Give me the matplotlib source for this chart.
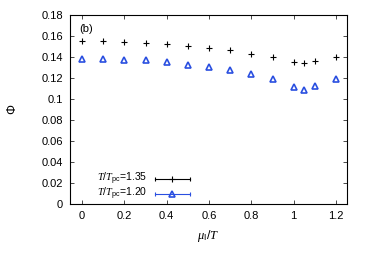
import matplotlib
matplotlib.use("Agg")
import matplotlib.pyplot as plt
from matplotlib.ticker import FuncFormatter, MultipleLocator

plt.rcParams['font.family'] = ['Liberation Sans', 'DejaVu Sans']
plt.rcParams['mathtext.fontset'] = 'custom'
plt.rcParams['mathtext.it'] = 'Liberation Serif:italic'
plt.rcParams['mathtext.rm'] = 'Liberation Sans'
plt.rcParams['mathtext.sf'] = 'Liberation Sans'

mu = [0.0, 0.1, 0.2, 0.3, 0.4, 0.5, 0.6, 0.7, 0.8, 0.9, 1.0, 1.05, 1.1, 1.2]
phi_135 = [0.155, 0.155, 0.1543, 0.153, 0.152, 0.1508, 0.1486, 0.1463, 0.1432,
           0.1397, 0.1356, 0.134, 0.1362, 0.1397]
phi_120 = [0.138, 0.138, 0.1374, 0.1368, 0.1352, 0.1327, 0.1305, 0.1276, 0.1241,
           0.1187, 0.1117, 0.1086, 0.112, 0.119]
labels = [r'$T/T_{\mathrm{pc}}$=1.35', r'$T/T_{\mathrm{pc}}$=1.20']

blue = '#2a4fe0'
fs = 8

fig = plt.figure(figsize=(3.70, 2.59), dpi=100)
ax = fig.add_axes([0.189, 0.212, 0.749, 0.730])

styles = [
    dict(marker='+', color='black', markerfacecolor='black', markersize=5, markeredgewidth=0.8),
    dict(marker='^', color=blue, markerfacecolor='none', markersize=4.5, markeredgewidth=1.2),
]

ax.plot(mu, phi_135, linestyle='none', **styles[0])
ax.plot(mu, phi_120, linestyle='none', **styles[1])

ax.set_xlim(-0.057, 1.252)
ax.set_ylim(0, 0.18)
ax.xaxis.set_major_locator(MultipleLocator(0.2))
ax.yaxis.set_major_locator(MultipleLocator(0.02))
ax.xaxis.set_major_formatter(FuncFormatter(lambda v, p: '%g' % round(v, 6)))
ax.yaxis.set_major_formatter(FuncFormatter(lambda v, p: '%g' % round(v, 6)))
ax.tick_params(direction='in', top=True, right=True, length=3, width=0.5,
               labelsize=fs, pad=5)
for s in ax.spines.values():
    s.set_linewidth(0.8)

ax.set_xlabel(r'$\mu_{\mathrm{I}}/T$', fontsize=fs + 1, labelpad=5)
ax.set_ylabel(r'$\mathit{\Phi}$', fontsize=fs + 1, labelpad=16)

ax.text(0.035, 0.926, '(b)', transform=ax.transAxes, fontsize=fs, ha='left', va='center')

# legend (gnuplot-style key with horizontal error-bar samples)
key_y = [0.132, 0.052]
tx, lx0, lx1 = 0.278, 0.307, 0.433
for lab, st, yk in zip(labels, styles, key_y):
    ax.text(tx, yk, lab, transform=ax.transAxes, fontsize=fs - 0.5, ha='right', va='center')
    ax.plot([lx0, lx1], [yk, yk], transform=ax.transAxes, color=st['color'],
            linewidth=0.8, clip_on=False)
    ax.plot([lx0, lx1], [yk, yk], transform=ax.transAxes, linestyle='none', marker='|',
            color=st['color'], markersize=3, markeredgewidth=0.8, clip_on=False)
    ax.plot([(lx0 + lx1) / 2], [yk], transform=ax.transAxes, linestyle='none',
            clip_on=False, **st)

fig.savefig('out.png', dpi=100)
